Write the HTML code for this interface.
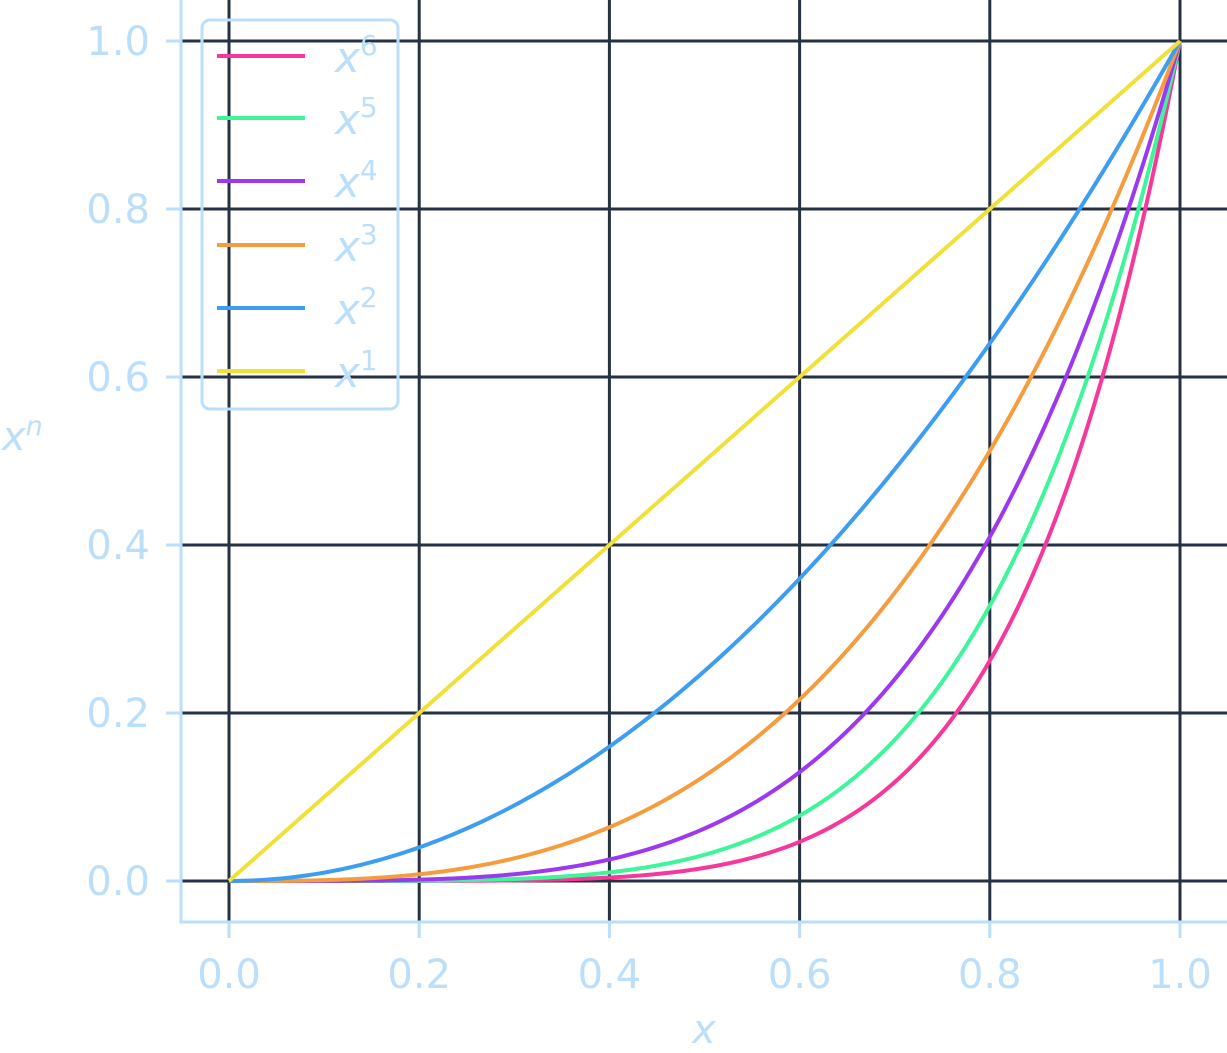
<!DOCTYPE html>
<html><head><meta charset="utf-8"><style>
html,body{margin:0;padding:0;background:#fff;}
svg{display:block;font-family:"DejaVu Sans","Liberation Sans",sans-serif;}
</style></head><body>
<svg id="s" width="1227" height="1053" viewBox="0 0 1227 1053" xmlns="http://www.w3.org/2000/svg">
<g id="grid" stroke="#263244" stroke-width="3"></g>
<g id="curves" fill="none" stroke-width="4" stroke-linejoin="round"></g>
<g stroke="#bbdefb" stroke-width="3">
<line x1="181" y1="0" x2="181" y2="923"/>
<line x1="180" y1="922" x2="1227" y2="922"/>
</g>
<g id="ticks" stroke="#bbdefb" stroke-width="3"></g>
<g id="labels" fill="#bbdefb" font-size="40"></g>
<text x="704" y="1043" fill="#bbdefb" font-size="40" font-style="italic" text-anchor="middle">x</text>
<text x="2" y="450" fill="#bbdefb" font-size="40" font-style="italic">x<tspan font-size="27" dy="-15">n</tspan></text>
<rect x="202" y="20" width="196" height="389" rx="8" fill="#fff" fill-opacity="0.0" stroke="#bbdefb" stroke-width="3"/>
<g id="legend"></g>
</svg>
<script>
var ns="http://www.w3.org/2000/svg";
function el(p,t,a,txt){var e=document.createElementNS(ns,t);for(var k in a)e.setAttribute(k,a[k]);if(txt!=null)e.textContent=txt;document.getElementById(p).appendChild(e);return e;}
function X(v){return 229+v*951;}function Y(v){return 881-v*840;}
for(var i=0;i<=5;i++){var v=i*0.2;
el("grid","line",{x1:X(v),y1:0,x2:X(v),y2:922});
el("grid","line",{x1:181,y1:Y(v),x2:1227,y2:Y(v)});
el("ticks","line",{x1:X(v),y1:922,x2:X(v),y2:938});
el("ticks","line",{x1:166,y1:Y(v),x2:181,y2:Y(v)});
el("labels","text",{x:X(v),y:988,"text-anchor":"middle"},v.toFixed(1));
el("labels","text",{x:150,y:Y(v)+14,"text-anchor":"end"},v.toFixed(1));
}
var cols={6:"#f5389a",5:"#3ef59a",4:"#9b38f0",3:"#f59d3e",2:"#3d9df2",1:"#f2e03a"};
for(var n=6;n>=1;n--){var d="";for(var j=0;j<=200;j++){var x=j/200;d+=(j?"L":"M")+X(x).toFixed(2)+","+Y(Math.pow(x,n)).toFixed(2);}
el("curves","path",{d:d,stroke:cols[n]});}
var ly=[56,118,181,245,308,371];
for(var k=0;k<6;k++){var n=6-k;
el("legend","line",{x1:217,y1:ly[k],x2:305,y2:ly[k],stroke:cols[n],"stroke-width":4});
var t=el("legend","text",{x:335,y:ly[k]+16,fill:"#bbdefb","font-size":42,"font-style":"italic"},"x");
var s=document.createElementNS(ns,"tspan");s.setAttribute("font-size","28");s.setAttribute("font-style","normal");s.setAttribute("dy","-17");s.textContent=n;t.appendChild(s);}
</script>
</body></html>
